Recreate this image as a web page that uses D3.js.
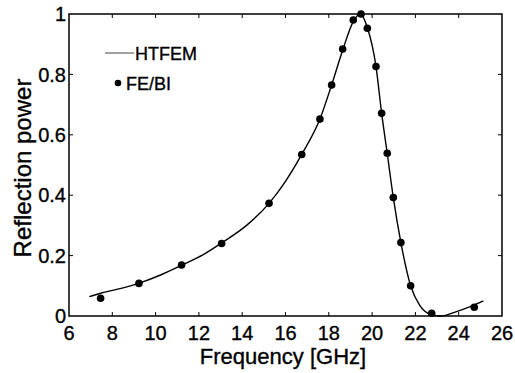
<!DOCTYPE html>
<html>
<head>
<meta charset="utf-8">
<script src="https://cdn.jsdelivr.net/npm/d3@7"></script>
<style>
  body { margin: 0; background: #fff; }
  text { font-family: Arial, "Liberation Sans", sans-serif; fill: #000; stroke: #000; stroke-width: 0.35px; }
</style>
</head>
<body>
<div id="chart"></div>
<script>
// HTFEM curve samples (frequency GHz, reflection power)
const htfemFreq = [6.94, 7.5, 8.5, 9.25, 10.2, 11.2, 12.2, 13.05, 14.2, 15.24, 16.0, 16.75, 17.59, 18.13,
    18.64, 19.13, 19.45, 19.78, 20.18, 20.44, 20.70, 20.98, 21.33, 21.78, 22.2, 22.75, 23.2, 23.8, 24.5, 25.14];
const htfemPower = [0.064, 0.076, 0.093, 0.109, 0.135, 0.168, 0.203, 0.242, 0.300, 0.373, 0.446, 0.535, 0.652, 0.765,
    0.880, 0.975, 1.0, 0.955, 0.826, 0.672, 0.538, 0.392, 0.243, 0.100, 0.035, 0.004, 0.0, 0.012, 0.030, 0.050];

// FE/BI points
const febiFreq = [7.46, 9.23, 11.2, 13.05, 15.24, 16.75, 17.59, 18.13, 18.64, 19.13, 19.49, 19.78,
    20.18, 20.44, 20.70, 20.98, 21.33, 21.78, 22.75, 24.72];
const febiPower = [0.059, 0.108, 0.169, 0.240, 0.373, 0.535, 0.652, 0.765, 0.884, 0.980, 1.0, 0.953,
    0.826, 0.671, 0.539, 0.392, 0.243, 0.100, 0.009, 0.029];

const xTicks = [6, 8, 10, 12, 14, 16, 18, 20, 22, 24, 26];
const yTicks = [0, 0.2, 0.4, 0.6, 0.8, 1];
const yTickLabels = ["0", "0.2", "0.4", "0.6", "0.8", "1"];

const width = 515, height = 373;
const margin = { top: 14, right: 13, bottom: 57, left: 69 };

const svg = d3.select("#chart").append("svg")
    .attr("width", width)
    .attr("height", height);

const x = d3.scaleLinear().domain([6, 26]).range([margin.left, width - margin.right]);
const y = d3.scaleLinear().domain([0, 1]).range([height - margin.bottom, margin.top]);

// inward ticks on all four sides
const tickLen = 4;
const ticks = svg.append("g").attr("stroke", "#000").attr("stroke-width", 1);
xTicks.slice(1, -1).forEach(t => {
    ticks.append("line").attr("x1", x(t)).attr("x2", x(t)).attr("y1", y(0)).attr("y2", y(0) - tickLen);
    ticks.append("line").attr("x1", x(t)).attr("x2", x(t)).attr("y1", y(1)).attr("y2", y(1) + tickLen);
});
yTicks.slice(1, -1).forEach(t => {
    ticks.append("line").attr("x1", x(6)).attr("x2", x(6) + tickLen).attr("y1", y(t)).attr("y2", y(t));
    ticks.append("line").attr("x1", x(26)).attr("x2", x(26) - tickLen).attr("y1", y(t)).attr("y2", y(t));
});

// frame
svg.append("rect")
    .attr("x", x(6)).attr("y", y(1))
    .attr("width", x(26) - x(6)).attr("height", y(0) - y(1))
    .attr("fill", "none").attr("stroke", "#000").attr("stroke-width", 1.5);

// tick labels
svg.append("g").selectAll("text")
    .data(xTicks)
    .join("text")
    .attr("x", d => x(d))
    .attr("y", y(0) + 24)
    .attr("text-anchor", "middle")
    .style("font-size", "20px")
    .text(d => d);

svg.append("g").selectAll("text")
    .data(yTicks)
    .join("text")
    .attr("x", x(6) - 3)
    .attr("y", d => y(d))
    .attr("dy", "0.36em")
    .attr("text-anchor", "end")
    .style("font-size", "20px")
    .text((d, i) => yTickLabels[i]);

// axis titles
svg.append("text")
    .attr("x", 283)
    .attr("y", 364)
    .attr("text-anchor", "middle")
    .style("font-size", "22px")
    .text("Frequency [GHz]");

svg.append("text")
    .attr("transform", `translate(31,${(y(0) + y(1)) / 2 + 3}) rotate(-90)`)
    .attr("text-anchor", "middle")
    .style("font-size", "24px")
    .text("Reflection power");

// HTFEM line
const line = d3.line()
    .x((d, i) => x(htfemFreq[i]))
    .y(d => y(d))
    .curve(d3.curveMonotoneX);

svg.append("path")
    .datum(htfemPower)
    .attr("d", line)
    .attr("fill", "none")
    .attr("stroke", "#000")
    .attr("stroke-width", 1.4);

// FE/BI markers
svg.append("g").selectAll("circle")
    .data(febiPower)
    .join("circle")
    .attr("cx", (d, i) => x(febiFreq[i]))
    .attr("cy", d => y(d))
    .attr("r", 3.8)
    .attr("fill", "#000");

// legend
const legend = svg.append("g");
legend.append("line")
    .attr("x1", 105).attr("x2", 134)
    .attr("y1", 53).attr("y2", 53)
    .attr("stroke", "#444").attr("stroke-width", 1);
legend.append("text")
    .attr("x", 135).attr("y", 60)
    .style("font-size", "18px")
    .text("HTFEM");
legend.append("circle")
    .attr("cx", 118).attr("cy", 83).attr("r", 3.3).attr("fill", "#000");
legend.append("text")
    .attr("x", 126).attr("y", 90)
    .style("font-size", "18px")
    .text("FE/BI");
</script>
</body>
</html>
